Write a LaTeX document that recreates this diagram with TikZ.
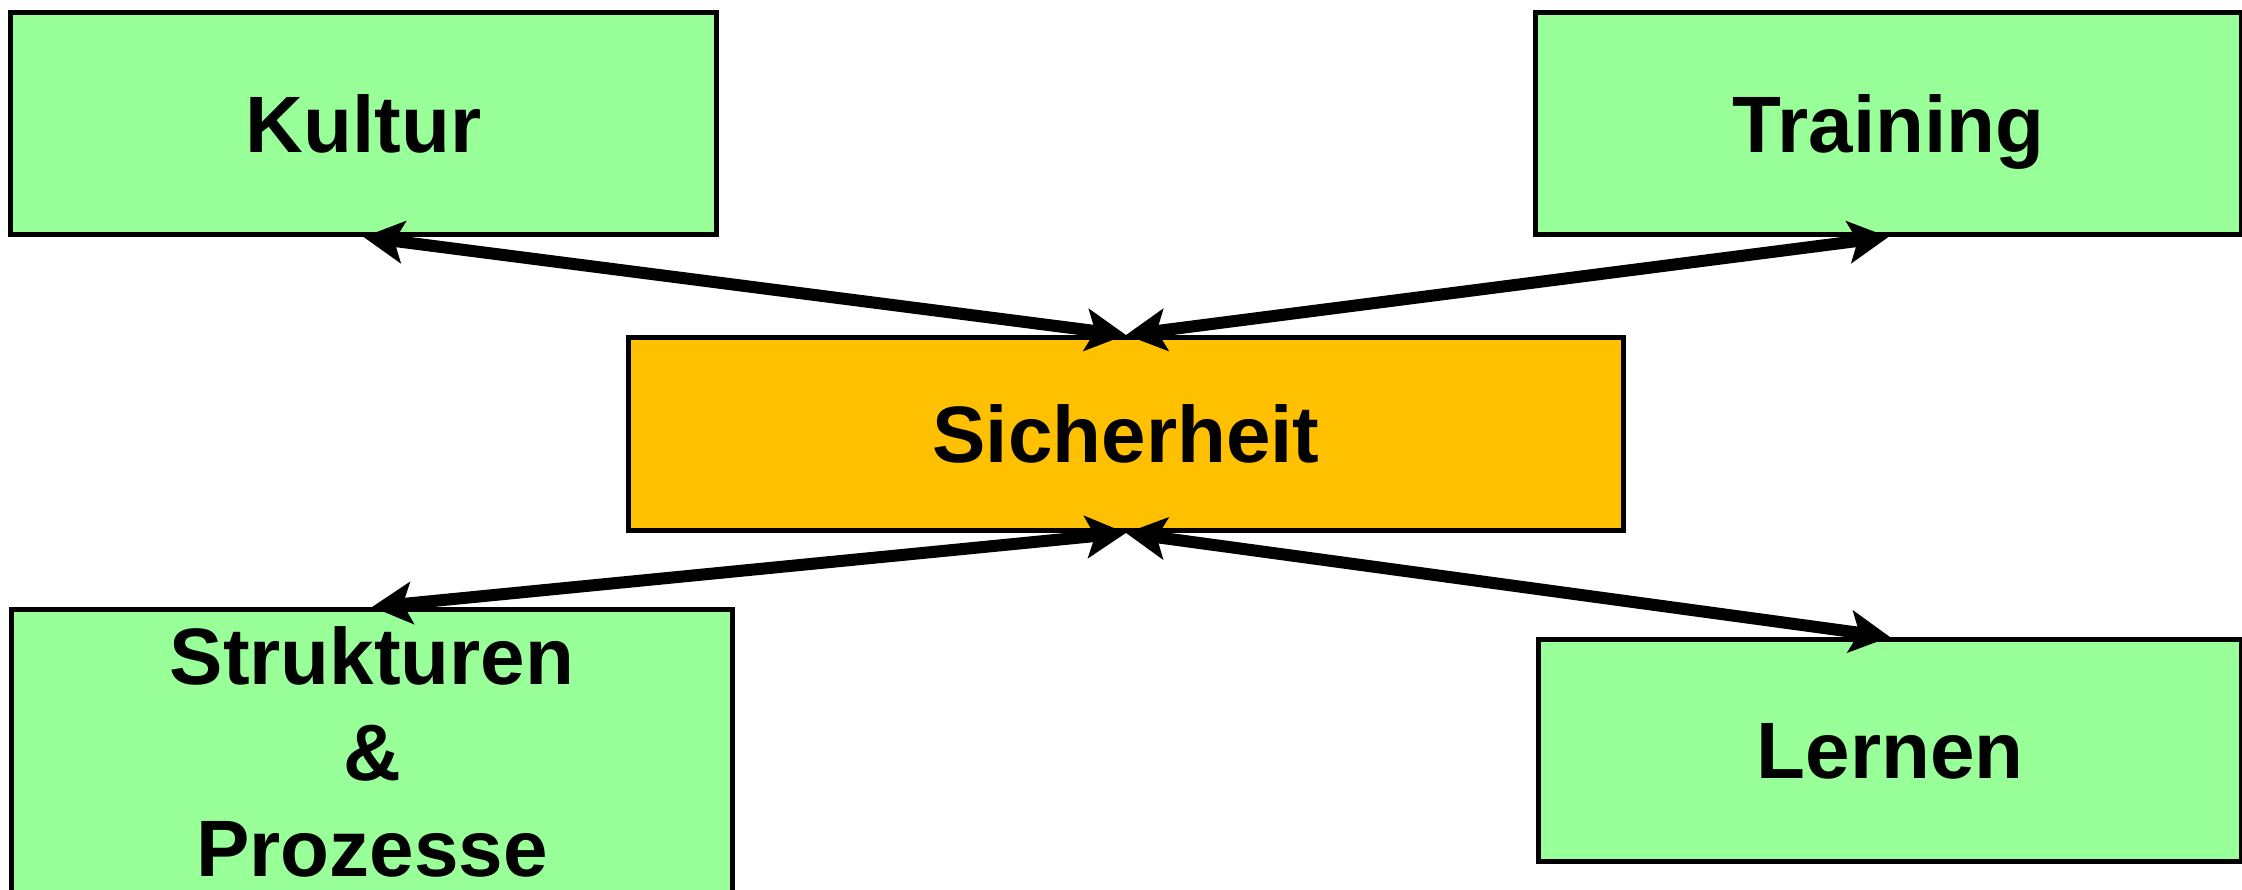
\documentclass[tikz,border=0pt]{standalone}
\usepackage{fontspec}
\setmainfont{Liberation Sans}
\usetikzlibrary{arrows.meta}
\definecolor{boxgreen}{HTML}{99FF99}
\definecolor{boxorange}{HTML}{FFC000}

\begin{document}
\begin{tikzpicture}[x=1pt,y=-1pt,
  box/.style={draw=black, line width=5pt, inner sep=0pt, align=center,
    font=\fontsize{80}{96}\selectfont\bfseries},
  topic/.style={box, fill=boxgreen},
  core/.style={box, fill=boxorange},
  oneline/.style={text depth=0pt},
  link/.style={line width=12pt,
    {Stealth[length=40pt,width=42pt,inset=9pt]}-{Stealth[length=40pt,width=42pt,inset=9pt]}}]

  % drawing area
  \clip (0,0) rectangle (2242,890);

  % central node
  \node[core, oneline, minimum width=995pt, minimum height=193pt] (sicher) at (1126,434) {Sicherheit};

  % surrounding topics
  \node[topic, oneline, minimum width=706pt, minimum height=222pt] (kultur) at (363.5,123.5) {Kultur};
  \node[topic, oneline, minimum width=706pt, minimum height=222pt] (training) at (1888.5,123.5) {Training};
  \node[topic, minimum width=721pt, minimum height=285pt] (struktur) at (372,752) {Strukturen\\\&\\Prozesse};
  \node[topic, oneline, minimum width=703pt, minimum height=222pt] (lernen) at (1890,750.5) {Lernen};

  % connections
  \draw[link] (kultur.south) -- (sicher.north);
  \draw[link] (training.south) -- (sicher.north);
  \draw[link] (struktur.north) -- (sicher.south);
  \draw[link] (lernen.north) -- (sicher.south);
\end{tikzpicture}
\end{document}
